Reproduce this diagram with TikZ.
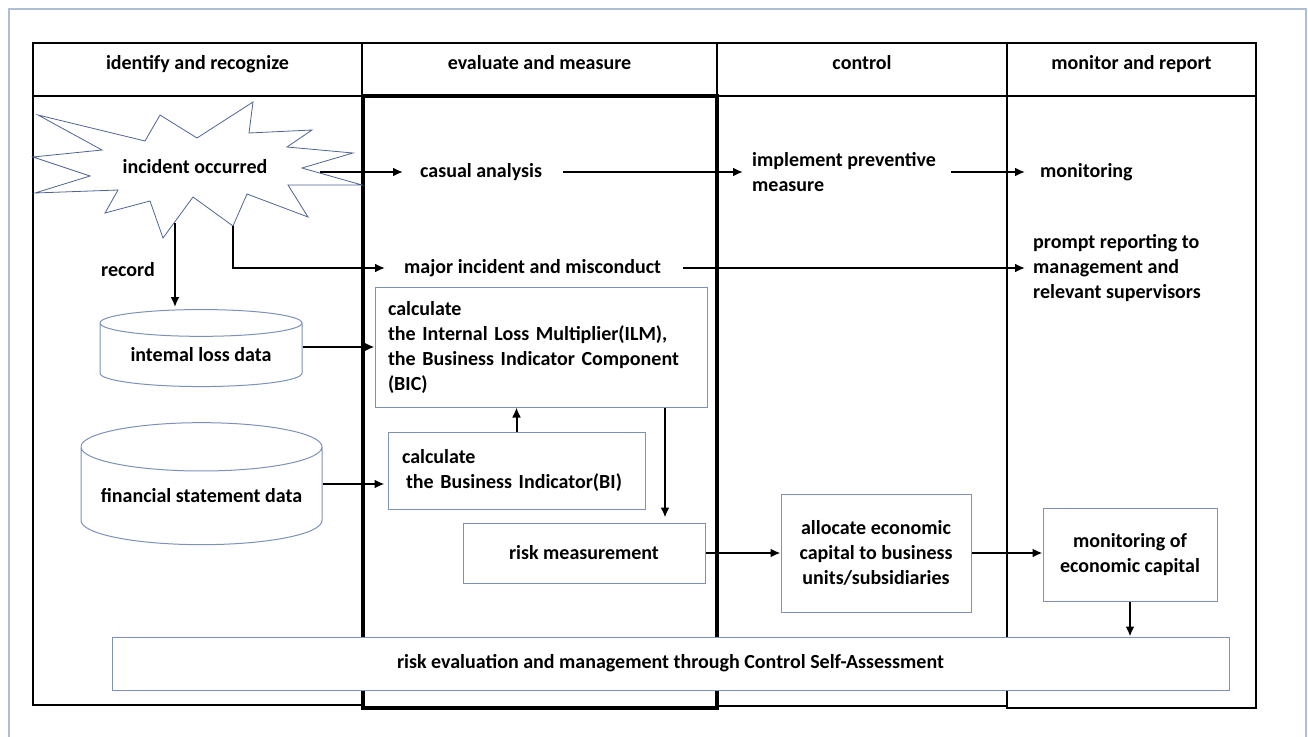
\documentclass[tikz,border=0pt]{standalone}
\usepackage{fontspec}
\setmainfont{Carlito}
\usetikzlibrary{shapes,arrows,arrows.meta}

\definecolor{boxline}{RGB}{125,145,185}
\definecolor{burstline}{RGB}{80,100,150}
\definecolor{framecol}{RGB}{175,190,210}

\begin{document}
\begin{tikzpicture}[x=1pt, y=-1pt, auto, font=\bfseries\fontsize{20}{25}\selectfont]

    % Define block styles
    \tikzstyle{head} = [rectangle, draw, line width=2.5pt, minimum height=53pt,
        inner sep=0pt, text depth=15pt]
    \tikzstyle{lane} = [draw, line width=2.5pt]
    \tikzstyle{block} = [rectangle, draw=boxline, fill=white, line width=1pt, inner sep=0pt]
    \tikzstyle{store} = [cylinder, shape border rotate=90, draw=boxline, fill=white,
        line width=1pt, inner sep=0pt]
    \tikzstyle{txt} = [inner sep=0pt, align=left, anchor=west]
    \tikzstyle{line} = [draw, line width=2pt, -{Latex[length=10pt,width=9pt]}]

    \useasboundingbox (0,0) rectangle (1308,736);
    \draw [framecol, line width=1.5pt] (9,745) -- (9,9) -- (1306,9) -- (1306,745);

    % Swimlanes
    \node [head, minimum width=329pt] (h1) at (197.5,69.5) {identify and recognize};
    \node [head, minimum width=355pt] (h2) at (539.5,69.5) {evaluate and measure};
    \node [head, minimum width=290pt] (h3) at (862,69.5) {control};
    \node [head, minimum width=249pt] (h4) at (1131.5,69.5) {monitor and report};
    \path [lane] (33,96) rectangle (362,705);
    \path [lane, line width=3.5pt] (363,96) rectangle (717,708);
    \path [lane] (717,96) rectangle (1007,706);
    \path [lane, line width=2pt] (1007,96) rectangle (1256,708);

    % Starburst
    \draw [burstline, fill=white, line width=0.8pt] (38,115) -- (145,141) -- (160,115)
        -- (197,138) -- (253,102) -- (249,133) -- (312,130) -- (287,147) -- (353,153)
        -- (302,168) -- (362,185) -- (288,185) -- (308,217) -- (247,194) -- (233,226)
        -- (193,197) -- (163,238) -- (150,201) -- (105,213) -- (118,190) -- (35,193)
        -- (90,176) -- (33,157) -- (102,150) -- cycle;
    \node [inner sep=0pt] (burst) at (195,167) {incident occurred};
    \coordinate (burstE) at (320,172);
    \coordinate (burstS1) at (175,223);
    \coordinate (burstS2) at (233,226);

    % Place nodes
    \node [txt] (casual) at (420,172) {casual analysis};
    \node [txt] (implement) at (752,172) {implement preventive\\measure};
    \node [txt] (monitoring) at (1040,172) {monitoring};
    \node [txt] (major) at (404,268) {major incident and misconduct};
    \node [txt] (prompt) at (1033,268) {prompt reporting to\\management and\\relevant supervisors};
    \node [inner sep=0pt] (record) at (128,270) {record};

    \node [store, minimum width=202pt, minimum height=77pt, aspect=0.19] (loss) at (201,355) {intemal loss data};
    \node [store, minimum width=241pt, minimum height=122pt, aspect=0.24] (fin) at (201.5,496) {financial statement data};

    \node [block, minimum width=332pt, minimum height=120pt, text width=306pt, align=left]
        (ilm) at (541,347) {calculate\\the Internal Loss Multiplier(ILM),\\the Business Indicator Component\\(BIC)};
    \node [block, minimum width=257pt, minimum height=77pt, text width=229pt, align=left]
        (bi) at (516.5,470.5) {calculate\\\hspace*{4pt}the Business Indicator(BI)};
    \node [block, minimum width=242pt, minimum height=60pt] (risk) at (584,553) {risk measurement};
    \node [block, minimum width=190pt, minimum height=118pt, align=center]
        (alloc) at (876,553) {allocate economic\\capital to business\\units/subsidiaries};
    \node [block, minimum width=174pt, minimum height=93pt, align=center]
        (moncap) at (1130,554.5) {monitoring of\\economic capital};
    \node [block, minimum width=1117pt, minimum height=53pt]
        (csa) at (670.5,663.5) {risk evaluation and management through Control Self-Assessment};

    % Draw edges
    \path [line, shorten >=17pt] (burstE) -- (burstE -| casual.west);
    \path [line, shorten <=21pt, shorten >=9pt] (casual.east) -- (casual.east -| implement.west);
    \path [line, shorten <=15pt, shorten >=15pt] (implement.east) -- (implement.east -| monitoring.west);
    \path [line, shorten >=19pt] (burstS2) |- (major.west);
    \path [line, shorten <=22pt, shorten >=8pt] (major.east) -- (prompt.west);
    \path [line, shorten >=2pt] (burstS1) -- (burstS1 |- loss.north);
    \path [line] (loss.east |- ilm.west) -- (ilm.west);
    \path [line, shorten >=3pt] ([yshift=12pt]fin.east) -- ([yshift=12pt]fin.east -| bi.west);
    \path [line] (bi.north) -- (bi.north |- ilm.south);
    \path [line, shorten >=5pt] ([xshift=124pt]ilm.south) -- ([xshift=81pt]risk.north);
    \path [line] (risk.east) -- (alloc.west);
    \path [line] (alloc.east) -- (alloc.east -| moncap.west);
    \path [line] (moncap.south) -- (moncap.south |- csa.north);

\end{tikzpicture}
\end{document}
